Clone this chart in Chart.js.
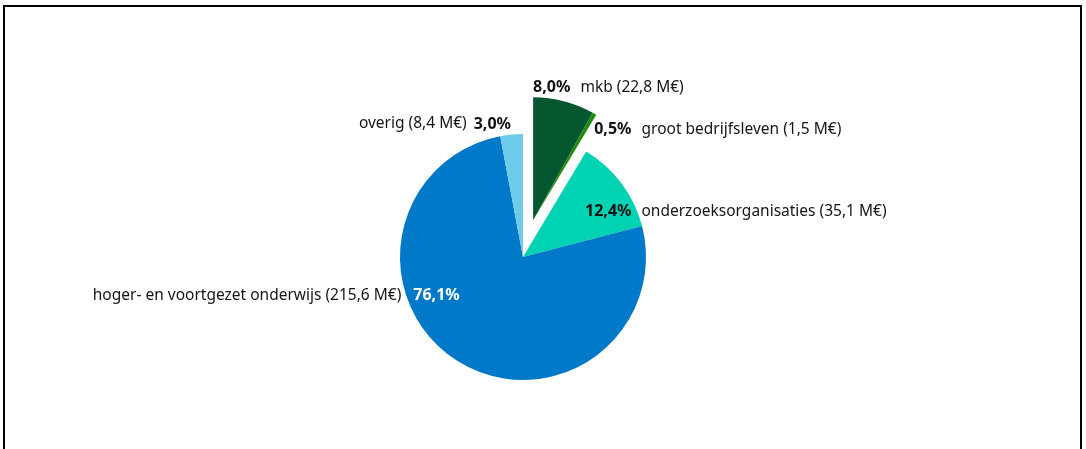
<!DOCTYPE html>
<html lang="nl">
<head>
    <meta charset="UTF-8">
    <title>Verdeling budget</title>
    <script src="https://cdn.jsdelivr.net/npm/chart.js"></script>
    <style>
        html, body {
            margin: 0;
            padding: 0;
            background: #fff;
        }
        .kader {
            position: absolute;
            left: 3px;
            top: 5px;
            width: 1075px;
            height: 460px;
            border: 2px solid #000;
            border-bottom: none;
            pointer-events: none;
        }
        #taart {
            position: absolute;
            left: 0;
            top: 0;
        }
    </style>
</head>
<body>
    <canvas id="taart" width="1086" height="449"></canvas>
    <div class="kader"></div>

    <script>
        // gegevens uit de figuur
        const categorieen = ['mkb', 'groot bedrijfsleven', 'onderzoeksorganisaties', 'hoger- en voortgezet onderwijs', 'overig'];
        const bedragen = [22.8, 1.5, 35.1, 215.6, 8.4];      // M€
        const percentages = [8.0, 0.5, 12.4, 76.1, 3.0];
        const kleuren = ['#05572f', '#1f8c05', '#00d2b4', '#0179c9', '#6ecbe9'];
        const uitgelicht = [0, 1];                            // losgetrokken taartpunten

        const fmt = v => v.toFixed(1).replace('.', ',');

        // plaats van de labels: t = positie binnen de punt (0 begin, 1 eind), k = straal-factor
        const labelPlek = [
            { t: 0, k: 1, dx: 0, dy: -10, mode: 'rechts' },
            { t: 1, k: 1, dx: -2, dy: 15, mode: 'rechts' },
            { t: 0.5, k: 0.62, dx: 1, dy: 0, mode: 'rechts' },
            { t: 0.643, k: 1, dx: 0, dy: 0, mode: 'om' },
            { t: 1, k: 1, dx: -12, dy: -10, mode: 'links' }
        ];

        const FONT = '"Noto Sans", sans-serif';
        const VET = 'bold 16px ' + FONT;
        const NORMAAL = '15.5px ' + FONT;
        const GAP = 10;

        const losTrekken = {
            id: 'losTrekken',
            afterDatasetUpdate(chart, args) {
                const arcs = args.meta.data;
                const eerste = arcs[uitgelicht[0]];
                const laatste = arcs[uitgelicht[uitgelicht.length - 1]];
                const hoek = (eerste.startAngle + laatste.endAngle) / 2;
                const afstand = 38;
                uitgelicht.forEach(i => {
                    arcs[i].x += Math.cos(hoek) * afstand;
                    arcs[i].y += Math.sin(hoek) * afstand;
                });
            }
        };

        const labels = {
            id: 'labels',
            afterDatasetsDraw(chart) {
                const ctx = chart.ctx;
                const arcs = chart.getDatasetMeta(0).data;
                ctx.save();
                ctx.textBaseline = 'middle';
                arcs.forEach((arc, i) => {
                    const p = labelPlek[i];
                    const a = arc.startAngle + (arc.endAngle - arc.startAngle) * p.t;
                    const x = arc.x + Math.cos(a) * arc.outerRadius * p.k + p.dx;
                    const y = arc.y + Math.sin(a) * arc.outerRadius * p.k + p.dy;
                    const pct = fmt(percentages[i]) + '%';
                    const naam = categorieen[i] + ' (' + fmt(bedragen[i]) + ' M€)';
                    const pctKleur = i === 3 ? '#ffffff' : '#111111';

                    ctx.font = VET;
                    const wPct = ctx.measureText(pct).width;
                    ctx.font = NORMAAL;
                    const wNaam = ctx.measureText(naam).width;

                    let xPct, xNaam;
                    if (p.mode === 'rechts') {
                        xPct = x;
                        xNaam = x + wPct + GAP;
                    } else if (p.mode === 'links') {
                        xPct = x - wPct;
                        xNaam = xPct - 7 - wNaam;
                    } else {
                        xNaam = x - 5 - wNaam;
                        xPct = x + 7;
                    }
                    ctx.textAlign = 'left';
                    ctx.fillStyle = pctKleur;
                    ctx.font = VET;
                    ctx.fillText(pct, xPct, y);
                    ctx.fillStyle = '#161616';
                    ctx.font = NORMAAL;
                    ctx.fillText(naam, xNaam, y);
                });
                ctx.restore();
            }
        };

        new Chart(document.getElementById('taart'), {
            type: 'pie',
            data: {
                labels: categorieen,
                datasets: [{
                    data: bedragen,
                    backgroundColor: kleuren,
                    borderWidth: 0
                }]
            },
            options: {
                responsive: false,
                animation: false,
                radius: 123,
                layout: { padding: { left: 0, right: 40, top: 65, bottom: 0 } },
                plugins: {
                    legend: { display: false },
                    tooltip: { enabled: false }
                },
                events: []
            },
            plugins: [losTrekken, labels]
        });
    </script>
</body>
</html>
